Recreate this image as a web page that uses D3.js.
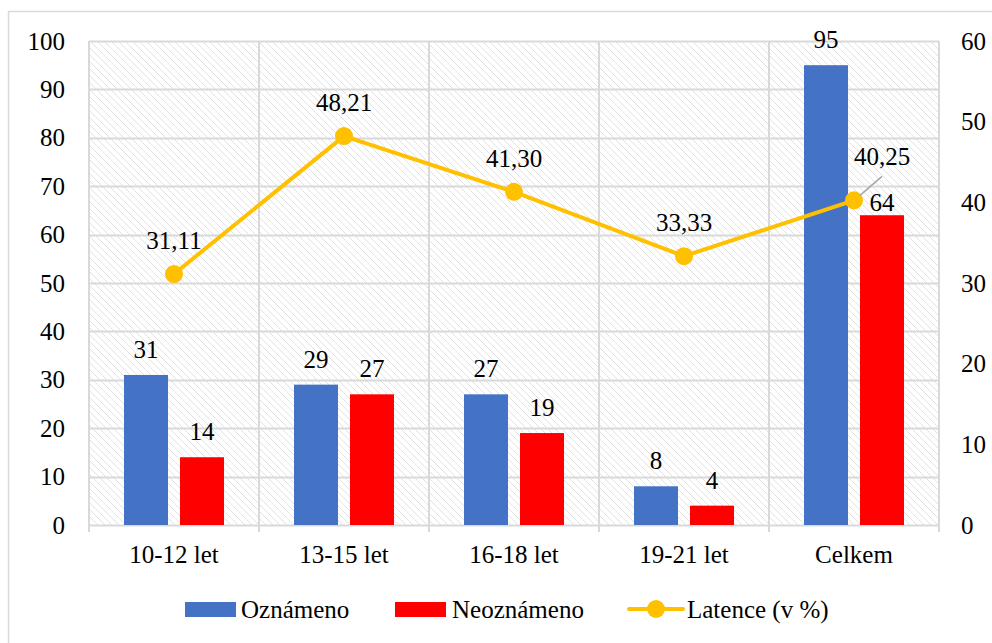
<!DOCTYPE html>
<html>
<head>
<meta charset="utf-8">
<script src="https://cdn.jsdelivr.net/npm/d3@7"></script>
<style>
  html, body { margin: 0; padding: 0; background: #fff; }
  svg { display: block; }
</style>
</head>
<body>
<svg id="chart" width="992" height="643"></svg>
<script>
const categories = ["10-12 let", "13-15 let", "16-18 let", "19-21 let", "Celkem"];
const oznameno = [31, 29, 27, 8, 95];
const neoznameno = [14, 27, 19, 4, 64];
const latence = [31.11, 48.21, 41.30, 33.33, 40.25];
const latenceLabels = ["31,11", "48,21", "41,30", "33,33", "40,25"];
const leftTicks = [0, 10, 20, 30, 40, 50, 60, 70, 80, 90, 100];
const rightTicks = [0, 10, 20, 30, 40, 50, 60];
const seriesNames = ["Oznámeno", "Neoznámeno", "Latence (v %)"];

const FONT = "'Liberation Serif', Tinos, 'Times New Roman', 'Nimbus Roman', 'DejaVu Serif', serif";
const colors = { blue: "#4472C4", red: "#FF0000", gold: "#FFC000", grid: "#d9d9d9" };
const svg = d3.select("#chart")
  .attr("font-family", FONT).style("font-family", FONT);
const W = 992, H = 643;
const plot = { left: 89, right: 939, top: 41, bottom: 525 };

// outer border
svg.append("rect").attr("x", 8.5).attr("y", 11.5).attr("width", W).attr("height", H)
  .attr("fill", "#fff").attr("stroke", colors.grid).attr("stroke-width", 1.5);

// hatch pattern
const defs = svg.append("defs");
const pat = defs.append("pattern").attr("id", "hatch").attr("patternUnits", "userSpaceOnUse")
  .attr("width", 7).attr("height", 7);
pat.append("path").attr("d", "M-1,-1 L8,8 M-1,6 L1,8 M6,-1 L8,1")
  .attr("stroke", "#e2e2e2").attr("stroke-width", 1).attr("fill", "none");

const x = d3.scaleBand().domain(categories).range([plot.left, plot.right]).padding(0);
const xs = d3.scaleBand().domain(["o", "n"]).range([0, x.bandwidth()])
  .paddingInner(12 / 56).paddingOuter(0.625);
const yL = d3.scaleLinear().domain([0, 100]).range([plot.bottom, plot.top]);
const yR = d3.scaleLinear().domain([0, 60]).range([plot.bottom, plot.top]);

svg.append("rect").attr("x", plot.left).attr("y", plot.top)
  .attr("width", plot.right - plot.left).attr("height", plot.bottom - plot.top)
  .attr("fill", "url(#hatch)");

// horizontal gridlines
svg.append("g").selectAll("line").data(leftTicks).join("line")
  .attr("x1", plot.left).attr("x2", plot.right)
  .attr("y1", d => Math.round(yL(d)) + 0.5).attr("y2", d => Math.round(yL(d)) + 0.5)
  .attr("stroke", colors.grid).attr("stroke-width", 2);

// vertical gridlines / category separators
const seps = categories.map(c => x(c)).concat([plot.right]);
svg.append("g").selectAll("line").data(seps).join("line")
  .attr("x1", d => d).attr("x2", d => d)
  .attr("y1", plot.top).attr("y2", plot.bottom + 7)
  .attr("stroke", colors.grid).attr("stroke-width", 2);

function txt(sel) {
  return sel.attr("font-family", FONT).style("font-family", FONT).attr("fill", "#000").attr("font-size", 25);
}

// left axis labels
txt(svg.append("g").selectAll("text").data(leftTicks).join("text"))
  .attr("x", 65).attr("y", d => yL(d)).attr("dy", "0.34em")
  .attr("text-anchor", "end").text(d => d);

// right axis labels
txt(svg.append("g").selectAll("text").data(rightTicks).join("text"))
  .attr("x", 961).attr("y", d => yR(d)).attr("dy", "0.34em")
  .attr("text-anchor", "start").text(d => d);

// category labels
txt(svg.append("g").selectAll("text").data(categories).join("text"))
  .attr("x", d => x(d) + x.bandwidth() / 2).attr("y", 563)
  .attr("text-anchor", "middle").text(d => d);

// bars
const barData = [];
categories.forEach((c, i) => {
  barData.push({ c, k: "o", v: oznameno[i], color: colors.blue, i });
  barData.push({ c, k: "n", v: neoznameno[i], color: colors.red, i });
});
svg.append("g").selectAll("rect").data(barData).join("rect")
  .attr("x", d => x(d.c) + xs(d.k)).attr("width", xs.bandwidth())
  .attr("y", d => yL(d.v)).attr("height", d => yL(0) - yL(d.v))
  .attr("fill", d => d.color);

// bar labels
txt(svg.append("g").selectAll("text").data(barData).join("text"))
  .attr("x", d => x(d.c) + xs(d.k) + xs.bandwidth() / 2)
  .attr("y", d => yL(d.v) - ((d.i === 4 && d.k === "n") ? 4 : 17))
  .attr("text-anchor", "middle").text(d => d.v);

// line
const cx = c => x(c) + x.bandwidth() / 2;
const line = d3.line().x((d, i) => cx(categories[i])).y(d => yR(d));
svg.append("path").datum(latence).attr("d", line)
  .attr("fill", "none").attr("stroke", colors.gold).attr("stroke-width", 4).attr("stroke-linejoin", "round");
svg.append("g").selectAll("circle").data(latence).join("circle")
  .attr("cx", (d, i) => cx(categories[i])).attr("cy", d => yR(d)).attr("r", 9)
  .attr("fill", colors.gold);

// line labels
txt(svg.append("g").selectAll("text").data(latence).join("text"))
  .attr("x", (d, i) => cx(categories[i]) + (i === 4 ? 28 : 0))
  .attr("y", (d, i) => yR(d) - (i === 4 ? 35 : 25))
  .attr("text-anchor", "middle").text((d, i) => latenceLabels[i]);

// leader line for last label
{
  const px = cx(categories[4]), py = yR(latence[4]);
  svg.append("line").attr("x1", px + 6).attr("y1", py - 5).attr("x2", px + 28).attr("y2", py - 24)
    .attr("stroke", "#a6a6a6").attr("stroke-width", 1.5);
}

// legend
const lg = svg.append("g");
const ly = 609;
lg.append("rect").attr("x", 185).attr("y", ly - 7).attr("width", 51).attr("height", 15).attr("fill", colors.blue);
txt(lg.append("text")).attr("x", 241).attr("y", ly).attr("dy", "0.34em").text(seriesNames[0]);
lg.append("rect").attr("x", 395).attr("y", ly - 7).attr("width", 51).attr("height", 15).attr("fill", colors.red);
txt(lg.append("text")).attr("x", 452).attr("y", ly).attr("dy", "0.34em").text(seriesNames[1]);
lg.append("line").attr("x1", 629).attr("x2", 683).attr("y1", ly).attr("y2", ly)
  .attr("stroke", colors.gold).attr("stroke-width", 4).attr("stroke-linecap", "round");
lg.append("circle").attr("cx", 656).attr("cy", ly).attr("r", 9).attr("fill", colors.gold);
txt(lg.append("text")).attr("x", 687).attr("y", ly).attr("dy", "0.34em").text(seriesNames[2]);
</script>
</body>
</html>
